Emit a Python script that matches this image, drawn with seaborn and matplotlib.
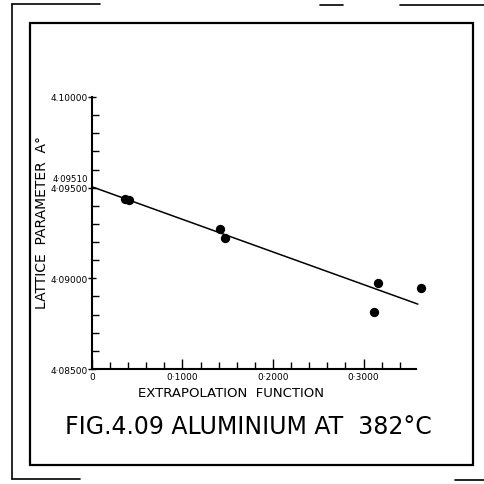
import numpy as np
import pandas as pd
import seaborn as sns
import matplotlib.pyplot as plt
from matplotlib.ticker import FixedLocator, MultipleLocator
from matplotlib.patches import Rectangle
from matplotlib.lines import Line2D

# values
ext_func = [0.037, 0.041, 0.141, 0.147, 0.316, 0.312, 0.364]
lattice = [4.09437, 4.09432, 4.09273, 4.09224, 4.08976, 4.08817, 4.08949]

# hand drawn extrapolation line
fit_x = [0.0, 0.360]
fit_y = [4.09505, 4.08858]

xticks = [0, 0.1, 0.2, 0.3]
xtick_labels = ["0", "0·1000", "0·2000", "0·3000"]
yticks = [4.085, 4.090, 4.095, 4.100]
ytick_labels = ["4·08500", "4·09000", "4·09500", "4.10000"]
intercept_label = "4·09510"

pts = pd.DataFrame({"ext": ext_func, "a": lattice})
fit = pd.DataFrame({"ext": fit_x, "a": fit_y})

sns.set_style("ticks", {"text.color": "black", "axes.labelcolor": "black",
                        "xtick.color": "black", "ytick.color": "black",
                        "axes.edgecolor": "black"})
plt.rcParams['font.family'] = ['DejaVu Sans']

fig = plt.figure(figsize=(4.84, 4.85), dpi=100)
ax = fig.add_axes([0.190, 0.237, 0.692, 0.561])

sns.lineplot(data=fit, x="ext", y="a", color="black", linewidth=1.1, ax=ax)
sns.scatterplot(data=pts, x="ext", y="a", color="black", s=45,
                edgecolor="black", linewidth=0, ax=ax, clip_on=False, zorder=3)

ax.set_xlim(0, 0.37)
ax.set_ylim(4.085, 4.100)
ax.set_xlabel("")
ax.set_ylabel("")

for s in ["top", "right"]:
    ax.spines[s].set_visible(False)
ax.spines["left"].set_bounds(4.085, 4.100)
ax.spines["bottom"].set_bounds(0, 0.358)
ax.spines["left"].set_linewidth(1.5)
ax.spines["bottom"].set_linewidth(1.5)

ax.xaxis.set_major_locator(FixedLocator(xticks))
ax.set_xticklabels(xtick_labels)
ax.xaxis.set_minor_locator(FixedLocator([v for v in np.arange(0.02, 0.36, 0.02)
                                         if abs(v * 10 - round(v * 10)) > 1e-6]))
ax.yaxis.set_major_locator(FixedLocator(yticks))
ax.set_yticklabels(ytick_labels)
ax.yaxis.set_minor_locator(MultipleLocator(0.001))

ax.tick_params(axis="x", which="major", direction="in", length=7, width=1, labelsize=6.5, pad=2)
ax.tick_params(axis="x", which="minor", direction="in", length=5, width=1)
ax.tick_params(axis="y", which="major", direction="inout", length=6, width=1, labelsize=6.5, pad=0)
ax.tick_params(axis="y", which="minor", direction="in", length=5, width=1)

ax.annotate(intercept_label, xy=(0, 4.09551), xytext=(-3, 0),
            textcoords="offset points", ha="right", va="center", fontsize=6.2)

fig.text(0.477, 0.188, "EXTRAPOLATION  FUNCTION", ha="center", va="center", fontsize=9.5)
fig.text(0.087, 0.542, "LATTICE  PARAMETER  A°", ha="center", va="center",
         rotation=90, fontsize=10)
fig.text(0.513, 0.120, "FIG.4.09 ALUMINIUM AT  382°C", ha="center", va="center",
         fontsize=17)

# picture frame and edges of the scanned page
fig.patches.append(Rectangle((30 / 484, 1 - 466 / 485), 443 / 484, 442 / 485,
                             fill=False, lw=1.6, edgecolor="black",
                             transform=fig.transFigure))
edges = [((12, 12), (5, 480)), ((12, 100), (5, 5)), ((320, 343), (6, 6)),
         ((400, 484), (6, 6)), ((12, 80), (480, 480)), ((455, 484), (481, 481))]
for (x0, x1), (y0, y1) in edges:
    fig.lines.append(Line2D([x0 / 484, x1 / 484], [1 - y0 / 485, 1 - y1 / 485],
                            color="black", lw=1.2, transform=fig.transFigure))

fig.savefig("out.png", dpi=100)
